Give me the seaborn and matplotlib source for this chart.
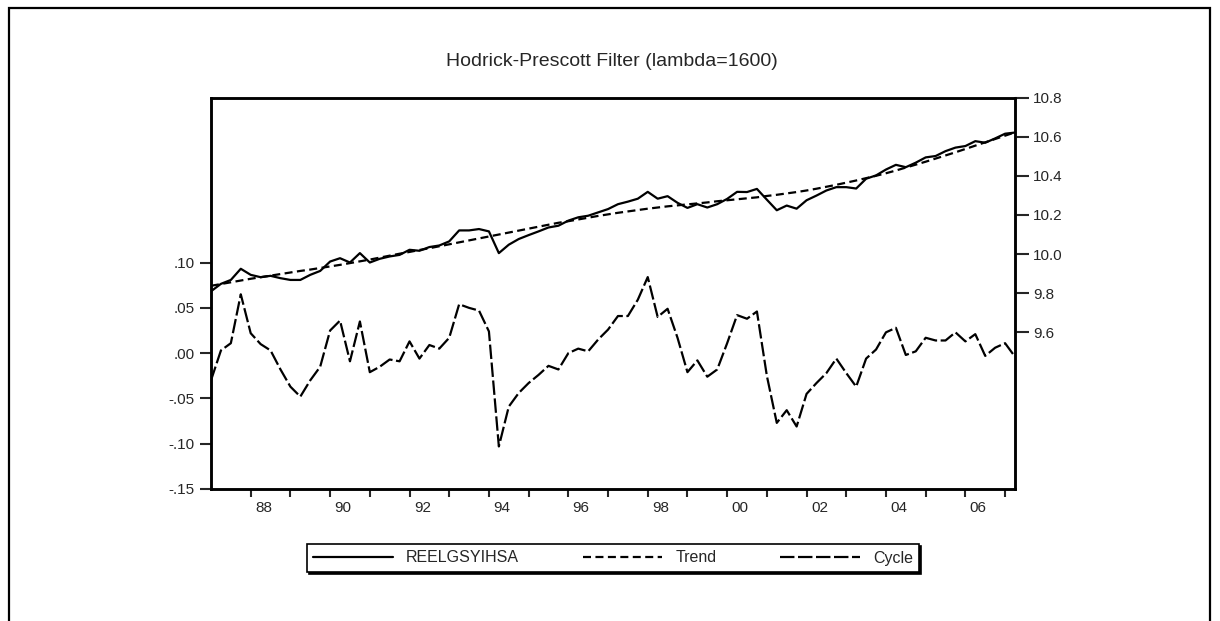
import numpy as np
import pandas as pd
import matplotlib
matplotlib.use("Agg")
import matplotlib.pyplot as plt
import seaborn as sns
from matplotlib.patches import Rectangle
from matplotlib.ticker import FuncFormatter

# ---------------- data (quarterly, 1987Q1 - 2007Q2) ----------------
quarters = [f"{y}Q{q}" for y in range(1987, 2008) for q in range(1, 5)][:82]

series = [9.810, 9.848, 9.868, 9.925, 9.894, 9.882, 9.889, 9.877, 9.868, 9.868,
          9.894, 9.914, 9.962, 9.979, 9.957, 10.005, 9.957, 9.976, 9.988, 9.996,
          10.022, 10.017, 10.036, 10.044, 10.065, 10.121, 10.121, 10.128, 10.116, 10.005,
          10.048, 10.077, 10.097, 10.116, 10.136, 10.145, 10.171, 10.188, 10.196, 10.213,
          10.230, 10.255, 10.268, 10.283, 10.318, 10.283, 10.296, 10.262, 10.236, 10.255,
          10.238, 10.255, 10.282, 10.318, 10.317, 10.333, 10.278, 10.224, 10.248, 10.232,
          10.275, 10.299, 10.325, 10.342, 10.342, 10.335, 10.385, 10.402, 10.432, 10.456,
          10.444, 10.467, 10.494, 10.501, 10.526, 10.544, 10.552, 10.577, 10.569, 10.591,
          10.615, 10.621]

trend = [9.838, 9.847, 9.856, 9.865, 9.874, 9.882, 9.890, 9.898, 9.906, 9.914,
         9.921, 9.929, 9.937, 9.945, 9.954, 9.963, 9.972, 9.982, 9.992, 10.002,
         10.011, 10.021, 10.030, 10.040, 10.050, 10.060, 10.070, 10.080, 10.090, 10.100,
         10.110, 10.120, 10.130, 10.140, 10.150, 10.160, 10.168, 10.177, 10.186, 10.195,
         10.203, 10.211, 10.218, 10.225, 10.232, 10.238, 10.244, 10.249, 10.254, 10.259,
         10.264, 10.270, 10.275, 10.280, 10.285, 10.290, 10.297, 10.303, 10.310, 10.317,
         10.325, 10.334, 10.344, 10.354, 10.365, 10.376, 10.388, 10.400, 10.413, 10.427,
         10.442, 10.457, 10.472, 10.488, 10.504, 10.520, 10.537, 10.554, 10.571, 10.588,
         10.605, 10.622]

cycle = [-0.030, 0.003, 0.011, 0.065, 0.022, 0.010, 0.003, -0.018, -0.037, -0.048,
         -0.030, -0.015, 0.025, 0.036, -0.009, 0.035, -0.021, -0.015, -0.007, -0.009,
         0.013, -0.006, 0.009, 0.005, 0.017, 0.054, 0.050, 0.047, 0.024, -0.103,
         -0.059, -0.044, -0.033, -0.024, -0.014, -0.018, 0.000, 0.005, 0.002, 0.015,
         0.026, 0.041, 0.041, 0.059, 0.084, 0.040, 0.049, 0.017, -0.021, -0.008,
         -0.026, -0.018, 0.011, 0.042, 0.038, 0.046, -0.025, -0.077, -0.063, -0.081,
         -0.045, -0.033, -0.022, -0.006, -0.022, -0.037, -0.006, 0.004, 0.023, 0.028,
         -0.002, 0.002, 0.017, 0.014, 0.014, 0.023, 0.013, 0.021, -0.003, 0.006,
         0.011, -0.004]

year_tick_labels = ["88", "", "90", "", "92", "", "94", "", "96", "", "98", "",
                    "00", "", "02", "", "04", "", "06", ""]
left_ticks = [-0.15, -0.10, -0.05, 0.00, 0.05, 0.10]
right_ticks = [9.6, 9.8, 10.0, 10.2, 10.4, 10.6, 10.8]
series_name = "REELGSYIHSA"
title_text = "Hodrick-Prescott Filter (lambda=1600)"

df = pd.DataFrame({"quarter": quarters, "obs": np.arange(len(quarters)),
                   series_name: series, "Trend": trend, "Cycle": cycle})

# ---------------- figure ----------------
sns.set_style("white")
plt.rcParams["font.family"] = ["Liberation Sans", "DejaVu Sans"]

W, H = 1220, 621
fig = plt.figure(figsize=(W / 100, H / 100), dpi=100)
fig.patch.set_facecolor("white")

ax = fig.add_axes([211 / W, 132 / H, 804 / W, 391.5 / H])
ax2 = ax.twinx()

lw = 1.6
sns.lineplot(data=df, x="obs", y="Cycle", ax=ax, color="black", linewidth=lw,
             legend=False)
ax.lines[-1].set_dashes((6.5, 1.6))
sns.lineplot(data=df, x="obs", y=series_name, ax=ax2, color="black", linewidth=lw,
             legend=False)
sns.lineplot(data=df, x="obs", y="Trend", ax=ax2, color="black", linewidth=lw,
             legend=False)
ax2.lines[-1].set_dashes((3.6, 2.0))

ax.set_xlim(0, len(quarters) - 1)
ax.set_ylim(-0.15, 0.2823)
ax2.set_ylim(8.8, 10.8)

# x ticks at each year start (unlabelled), labels sit just right of the tick
xt = list(range(4, len(quarters), 4))
ax.set_xticks(xt)
ax.set_xticklabels([""] * len(xt))
lab_pos = [t + 1.3 for t, lab in zip(xt, year_tick_labels) if lab]
lab_txt = [lab for lab in year_tick_labels[:len(xt)] if lab]
ax.set_xticks(lab_pos, minor=True)
ax.set_xticklabels(lab_txt, minor=True)

ax.set_yticks(left_ticks)
def fmt_left(v, pos):
    s = f"{v:.2f}"
    return s.replace("0.", ".", 1)
ax.yaxis.set_major_formatter(FuncFormatter(fmt_left))
ax2.set_yticks(right_ticks)
ax2.set_yticklabels([f"{v:.1f}" for v in right_ticks])

ax.set_xlabel("")
ax.set_ylabel("")
ax2.set_ylabel("")

ax.tick_params(axis="x", which="major", direction="out", length=6, width=1.5,
               pad=3, bottom=True)
ax.tick_params(axis="x", which="minor", length=0, labelsize=11, pad=8.5,
               bottom=True)
ax.tick_params(axis="y", direction="out", length=8, width=1.5, labelsize=11,
               pad=4, left=True)
ax2.tick_params(axis="y", direction="out", length=10, width=1.5, labelsize=11,
                pad=3, right=True)

for a in (ax, ax2):
    for sp in a.spines.values():
        sp.set_visible(True)
        sp.set_linewidth(1.8)
        sp.set_color("black")

ax.grid(False)
ax2.grid(False)

# title
fig.text(612 / W, 1 - 62 / H, title_text, ha="center", va="center", fontsize=14)

# legend
handles = [ax2.lines[0], ax2.lines[1], ax.lines[0]]
labels = [series_name, "Trend", "Cycle"]
leg = fig.legend(handles, labels, loc="center", bbox_to_anchor=(613 / W, 1 - 558 / H),
                 ncol=3, frameon=True, fancybox=False, edgecolor="black",
                 framealpha=1, fontsize=11.5, handlelength=5.0, handletextpad=0.8,
                 columnspacing=4.0, borderpad=0.4, borderaxespad=0.0,
                 shadow={"color": "black", "alpha": 1, "ox": 1.5, "oy": -1.5})
leg.get_frame().set_linewidth(1.2)

# outer frame (bottom edge lies outside the canvas)
fig.add_artist(Rectangle((9 / W, -0.1), (1210 - 9) / W, (H - 8) / H + 0.1,
                         transform=fig.transFigure, fill=False, lw=1.6,
                         edgecolor="black"))

fig.savefig("out.png", dpi=100, facecolor="white")
